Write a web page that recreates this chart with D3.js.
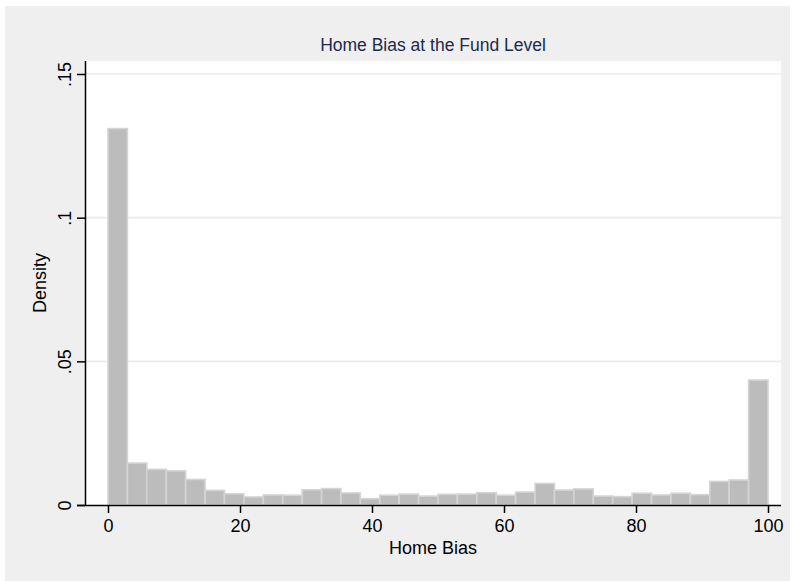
<!DOCTYPE html>
<html><head><meta charset="utf-8">
<script src="https://cdn.jsdelivr.net/npm/d3@7"></script>
<style>body{margin:0;background:#fff}svg{display:block}text{font-family:"Liberation Sans",Arial,sans-serif}</style>
</head><body>
<script>
const binStart = 0, binEnd = 100, binCount = 34;
const densities = [0.1310,0.0146,0.0124,0.0119,0.0089,0.0051,0.0039,0.0028,0.0035,0.0034,
  0.0053,0.0057,0.0042,0.0022,0.0034,0.0038,0.0031,0.0037,0.0038,0.0043,
  0.0034,0.0045,0.0075,0.0052,0.0056,0.0031,0.0029,0.0041,0.0035,0.0041,
  0.0036,0.0082,0.0087,0.0435];
const xTicks = [0,20,40,60,80,100];
const yTicks = [0,0.05,0.1,0.15];
const yTickLabels = ["0",".05",".1",".15"];
const title = "Home Bias at the Fund Level";
const xTitle = "Home Bias", yTitle = "Density";

const W=792,H=582;
const svg=d3.select("body").append("svg").attr("width",W).attr("height",H);
svg.append("rect").attr("x",5).attr("y",6).attr("width",785).attr("height",575).attr("fill","#efefef");
const P={l:85,r:781,t:61,b:505};
svg.append("rect").attr("x",P.l).attr("y",P.t).attr("width",P.r-P.l).attr("height",P.b-P.t).attr("fill","#fff");
const x=d3.scaleLinear().domain([0,100]).range([108,768]);
const y=d3.scaleLinear().domain([0,0.15]).range([505,74]);
// grid
svg.append("g").selectAll("line").data(yTicks.slice(1)).join("line")
  .attr("x1",P.l).attr("x2",P.r).attr("y1",d=>y(d)).attr("y2",d=>y(d))
  .attr("stroke","#ebebeb").attr("stroke-width",1.6);
const bw=(binEnd-binStart)/binCount;
svg.append("g").selectAll("rect").data(densities).join("rect")
  .attr("x",(d,i)=>x(binStart+i*bw)).attr("width",(d,i)=>x(binStart+(i+1)*bw)-x(binStart+i*bw))
  .attr("y",d=>y(d)).attr("height",d=>y(0)-y(d))
  .attr("fill","#bcbcbc").attr("stroke","#d4d4d4").attr("stroke-width",1.6);
// axes
const xa=svg.append("g").attr("transform",`translate(0,${P.b})`)
  .call(d3.axisBottom(x).tickValues(xTicks).tickSize(8).tickPadding(6).tickFormat(d3.format("d")));
xa.select(".domain").attr("d",`M77,0.5H${P.r}`).attr("stroke","#000").attr("stroke-width",1.5);
xa.selectAll(".tick line").attr("stroke","#000").attr("stroke-width",1.5);
xa.selectAll("text").attr("font-size",18).attr("fill","#000").attr("font-family","Liberation Sans, Arial, sans-serif");
const ya=svg.append("g").attr("transform",`translate(${P.l},0)`)
  .call(d3.axisLeft(y).tickValues(yTicks).tickSize(8).tickFormat((d,i)=>yTickLabels[i]));
ya.select(".domain").attr("d",`M0.5,${P.t}V${P.b}`).attr("stroke","#000").attr("stroke-width",1.5);
ya.selectAll(".tick line").attr("stroke","#000").attr("stroke-width",1.5);
ya.selectAll("text").attr("font-size",18).attr("fill","#000").attr("font-family","Liberation Sans, Arial, sans-serif")
  .attr("transform","rotate(-90)").attr("x",0).attr("y",-14).attr("dy",0).attr("text-anchor","middle");
svg.append("text").attr("x",433).attr("y",51).attr("text-anchor","middle").attr("font-size",17.5).attr("fill","#1c2a4e").text(title);
svg.append("text").attr("x",433).attr("y",554).attr("text-anchor","middle").attr("font-size",18).attr("fill","#000").text(xTitle);
svg.append("text").attr("transform",`translate(46,283) rotate(-90)`).attr("text-anchor","middle").attr("font-size",18).attr("fill","#000").text(yTitle);
</script>
</body></html>
